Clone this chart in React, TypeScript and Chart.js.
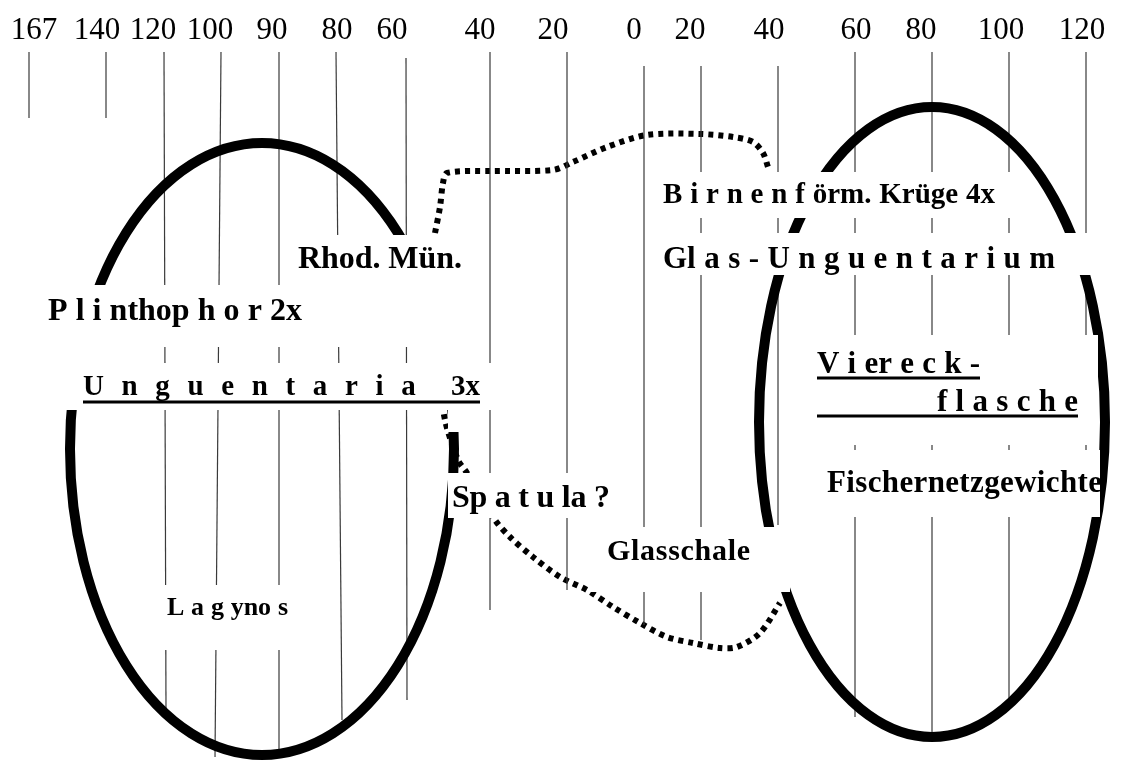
import React, { useEffect, useRef } from 'react';
import { Chart, registerables } from 'chart.js';

Chart.register(...registerables);

// Top scale: label positions and texts
const tickValues = [34, 97, 153, 210, 272, 337, 392, 480, 553, 634, 690, 769, 856, 921, 1001, 1082];
const tickLabels = ['167', '140', '120', '100', '90', '80', '60', '40', '20', '0', '20', '40', '60', '80', '100', '120'];

// Thin vertical strokes (top x/y, bottom x/y)
const strokeTopX = [29, 106, 164, 221, 279, 336, 406, 490, 567, 644, 701, 778, 855, 932, 1009, 1086];
const strokeTopY = [52, 52, 52, 52, 52, 52, 58, 52, 52, 66, 66, 66, 52, 52, 52, 52];
const strokeBottomX = [29, 106, 166, 215, 279, 342, 407, 490, 567, 644, 701, 778, 855, 932, 1009, 1086];
const strokeBottomY = [118, 118, 712, 757, 750, 720, 700, 610, 590, 625, 640, 525, 717, 735, 700, 470];

// Two ellipses (groups)
const ellipseCX = [262, 932];
const ellipseCY = [449, 422];
const ellipseRX = [192, 173];
const ellipseRY = [306, 315];

// Dotted connectors
const upperPathX = [435, 440, 443, 447, 490, 553, 573, 607, 647, 700, 733, 753, 763, 768];
const upperPathY = [233, 207, 183, 173, 171, 170, 162, 147, 135, 134, 137, 142, 153, 167];
const lowerPathX = [433, 437, 445, 458, 467, 495, 510, 533, 560, 587, 613, 640, 667, 693, 720, 737, 760, 780];
const lowerPathY = [345, 365, 420, 460, 473, 520, 537, 557, 577, 590, 607, 623, 637, 643, 648, 647, 633, 603];

// Labels
const labelTexts = [
  'Rhod. Mün.',
  'P l i nthop h o r 2x',
  'U n g u e n t a r i a  3x',
  'L a g yno s',
  'Sp a t u la ?',
  'Glasschale',
  'B i r n e n f örm. Krüge 4x',
  'Gl a s - U n g u e n t a r i u m',
  'V i er e c k -',
  'f l a s c h e',
  'Fischernetzgewichte',
];
const labelX = [298, 48, 83, 167, 452, 607, 663, 663, 817, 937, 827];
const labelBaseline = [268, 320, 395, 615, 507, 560, 203, 268, 373, 411, 492];
const labelSize = [32, 32, 29, 26, 32, 30, 29, 31, 31, 31, 31];
const labelWidth = [164, 254, 397, 121, 158, 143, 332, 392, 163, 141, 275];

// White label backgrounds [x1, y1, x2, y2]
const boxX1 = [285, 40, 40, 145, 448, 590, 650, 650, 800, 815, 420, 448, 40];
const boxY1 = [235, 285, 363, 585, 473, 527, 172, 233, 335, 450, 345, 410, 347];
const boxX2 = [470, 420, 495, 300, 640, 790, 1020, 1100, 1098, 1100, 470, 470, 150];
const boxY2 = [345, 347, 410, 650, 518, 592, 218, 275, 445, 517, 363, 432, 363];

// Underlines
const underlineX1 = [83, 817, 817];
const underlineX2 = [480, 980, 1078];
const underlineY = [402, 378, 416];

const overlayPlugin = {
  id: 'overlay',
  afterDatasetsDraw(chart: any) {
    const ctx: CanvasRenderingContext2D = chart.ctx;
    const xs = chart.scales.x;
    const ys = chart.scales.y;
    const px = (v: number) => xs.getPixelForValue(v);
    const py = (v: number) => ys.getPixelForValue(v);
    ctx.save();
    // ellipses
    ctx.strokeStyle = '#000';
    ctx.lineWidth = 10;
    for (let i = 0; i < ellipseCX.length; i++) {
      const cx = px(ellipseCX[i]);
      const cy = py(ellipseCY[i]);
      const rx = Math.abs(px(ellipseCX[i] + ellipseRX[i]) - cx);
      const ry = Math.abs(py(ellipseCY[i] + ellipseRY[i]) - cy);
      ctx.beginPath();
      ctx.ellipse(cx, cy, rx, ry, 0, 0, Math.PI * 2);
      ctx.stroke();
    }
    // white boxes
    ctx.fillStyle = '#fff';
    for (let i = 0; i < boxX1.length; i++) {
      const x1 = px(boxX1[i]);
      const y1 = py(boxY1[i]);
      const x2 = px(boxX2[i]);
      const y2 = py(boxY2[i]);
      ctx.fillRect(x1, y1, x2 - x1, y2 - y1);
    }
    // labels
    ctx.fillStyle = '#000';
    ctx.textBaseline = 'alphabetic';
    ctx.textAlign = 'left';
    for (let i = 0; i < labelTexts.length; i++) {
      const text = labelTexts[i];
      ctx.font = `bold ${labelSize[i]}px "Liberation Serif", "Times New Roman", serif`;
      const chars = Array.from(text);
      const widths = chars.map((c) => ctx.measureText(c).width);
      const natural = widths.reduce((a, b) => a + b, 0);
      const target = Math.abs(px(labelX[i] + labelWidth[i]) - px(labelX[i]));
      const spaceCount = chars.filter((c) => c === ' ').length;
      const useSpaces = spaceCount > 0 && target > natural;
      const extra = useSpaces
        ? (target - natural) / spaceCount
        : chars.length > 1
        ? (target - natural) / (chars.length - 1)
        : 0;
      let x = px(labelX[i]);
      const y = py(labelBaseline[i]);
      chars.forEach((c, k) => {
        ctx.fillText(c, x, y);
        x += widths[k] + (useSpaces ? (c === ' ' ? extra : 0) : extra);
      });
    }
    // underlines
    ctx.strokeStyle = '#000';
    ctx.lineWidth = 3;
    for (let i = 0; i < underlineX1.length; i++) {
      ctx.beginPath();
      ctx.moveTo(px(underlineX1[i]), py(underlineY[i]));
      ctx.lineTo(px(underlineX2[i]), py(underlineY[i]));
      ctx.stroke();
    }
    ctx.restore();
  },
};

export default function App() {
  const canvasRef = useRef<HTMLCanvasElement>(null);

  useEffect(() => {
    if (!canvasRef.current) return;
    const strokeSets = strokeTopX.map((_, i) => ({
      data: [
        { x: strokeTopX[i], y: strokeTopY[i] },
        { x: strokeBottomX[i], y: strokeBottomY[i] },
      ],
      borderColor: '#3a3a3a',
      borderWidth: 1.2,
      pointRadius: 0,
      fill: false,
      tension: 0,
    }));
    const dotted = (xs: number[], ys: number[]) => ({
      data: xs.map((x, i) => ({ x, y: ys[i] })),
      borderColor: '#000',
      borderWidth: 6,
      borderDash: [5, 5],
      borderCapStyle: 'butt' as const,
      pointRadius: 0,
      fill: false,
      tension: 0.3,
    });
    const chart = new Chart(canvasRef.current, {
      type: 'line',
      data: {
        datasets: [...strokeSets, dotted(upperPathX, upperPathY), dotted(lowerPathX, lowerPathY)] as any,
      },
      options: {
        animation: false,
        responsive: false,
        layout: { padding: 0 },
        parsing: false as any,
        plugins: { legend: { display: false }, tooltip: { enabled: false }, title: { display: false } },
        events: [],
        scales: {
          x: {
            type: 'linear',
            min: 0,
            max: 1122,
            position: { y: 12 } as any,
            grid: { display: false, drawTicks: false },
            border: { display: false },
            afterBuildTicks: (axis: any) => {
              axis.ticks = tickValues.map((v) => ({ value: v }));
            },
            ticks: {
              autoSkip: false,
              maxRotation: 0,
              minRotation: 0,
              padding: 0,
              color: '#000',
              font: { family: '"Liberation Serif", "Times New Roman", serif', size: 31 },
              callback: (_v: any, index: number) => tickLabels[index],
            },
          },
          y: {
            type: 'linear',
            display: false,
            min: 0,
            max: 761,
            reverse: true,
          },
        },
      },
      plugins: [overlayPlugin],
    });
    return () => chart.destroy();
  }, []);

  return (
    <div style={{ position: 'absolute', left: 0, top: 0, width: 1122, height: 761, background: '#fff' }}>
      <canvas ref={canvasRef} width={1122} height={761} style={{ display: 'block' }} />
    </div>
  );
}
